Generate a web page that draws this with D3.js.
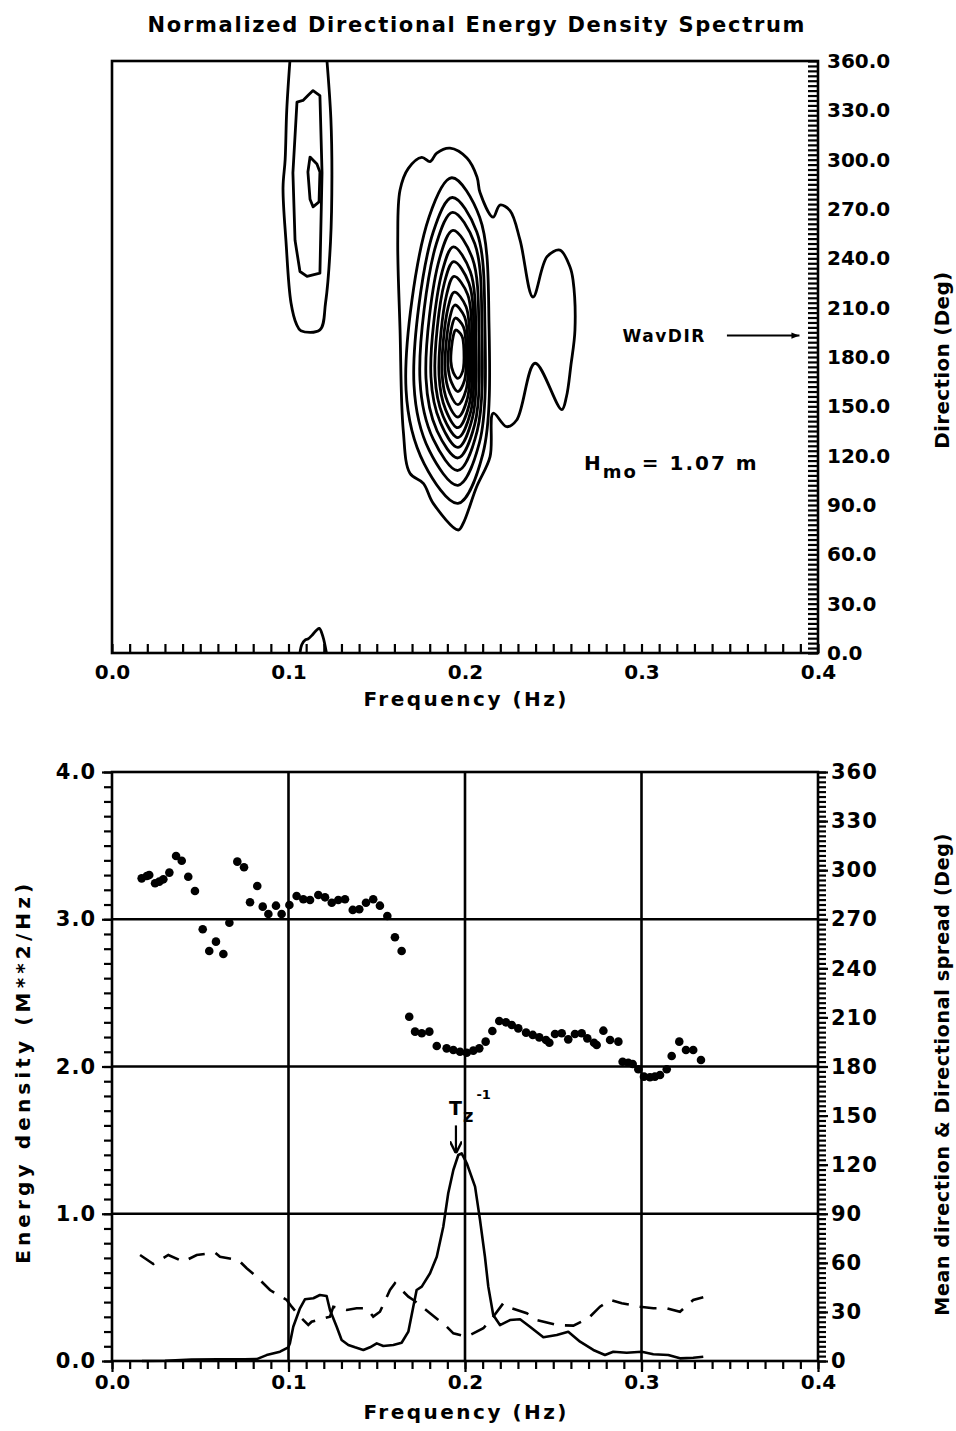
<!DOCTYPE html>
<html>
<head>
<meta charset="utf-8">
<script src="https://cdn.jsdelivr.net/npm/d3@7"></script>
<style>
  body { margin: 0; background: #fff; }
  svg text { font-family: "DejaVu Sans", sans-serif; font-weight: bold; fill: #000; }
</style>
</head>
<body>
<svg width="956" height="1431"></svg>
<script>
const svg = d3.select("svg")

// ---------- data ----------
const freqTicks = [0.0, 0.1, 0.2, 0.3, 0.4]
const dirTicks = [0, 30, 60, 90, 120, 150, 180, 210, 240, 270, 300, 330, 360]
const energyTicks = [0, 1, 2, 3, 4]
const gridFreq = [0.1, 0.2, 0.3]
const gridEnergy = [1, 2, 3]

// contours of the directional spectrum, [frequency Hz, direction deg]
const swellOuter = [[0.1008,360],[0.0990,330],[0.0981,300],[0.0969,283],[0.0986,250],[0.1014,213],[0.1045,200],[0.1070,196],[0.1178,196.5],[0.1210,213],[0.1238,250],[0.1246,290],[0.1240,325],[0.1218,360]]
const swellWrap = [[0.1065,0],[0.1075,5],[0.1095,8],[0.1110,8.5],[0.1135,11],[0.1160,14],[0.1175,15],[0.1195,10],[0.1215,0]]
const swellMid = [[0.1139,342],[0.1178,339],[0.1190,292],[0.1178,231],[0.1105,229],[0.1065,232],[0.1037,251],[0.1025,292],[0.1048,335],[0.1082,336],[0.1110,339]]
const swellInner = [[0.1122,301.6],[0.1161,297.4],[0.1178,292.5],[0.1173,274.3],[0.1139,271.3],[0.1122,276],[0.1110,292.5]]
const windOuter = [[0.1915,307],[0.2011,301],[0.2068,289.5],[0.2085,280],[0.2159,265],[0.2198,272.4],[0.2255,269],[0.2312,251],[0.2385,216.5],[0.2465,241],[0.2538,245],[0.2595,234.7],[0.2612,226.8],[0.2623,196.4],[0.2600,175],[0.2575,156],[0.2548,148],[0.2397,176.2],[0.2293,141.7],[0.2236,137.6],[0.2160,145.8],[0.2142,119.4],[0.2066,101.1],[0.1990,78.9],[0.1962,74.8],[0.1820,91],[0.1764,103.2],[0.1688,109.3],[0.1650,135.6],[0.1632,196.4],[0.1619,251],[0.1632,281.5],[0.1679,294.7],[0.1755,301.4],[0.1802,298.8],[0.1840,304]]
const windRings = [
  [[0.1925,289],[0.2083,265],[0.2136,200],[0.2101,121],[0.1960,91],[0.1769,115],[0.1666,160],[0.1796,265]],
  [[0.1928,277],[0.2067,256],[0.2113,198],[0.2082,128],[0.1960,102],[0.1798,123],[0.1711,163],[0.1820,256]],
  [[0.1930,268],[0.2055,249],[0.2096,197],[0.2069,135],[0.1960,111],[0.1820,130],[0.1745,166],[0.1838,249]],
  [[0.1932,257],[0.2042,240],[0.2079,195],[0.2055,139],[0.1960,118.6],[0.1842,135],[0.1779,167],[0.1856,240]],
  [[0.1934,247],[0.2030,232],[0.2062,192],[0.2042,143],[0.1960,125],[0.1861,140],[0.1807,168],[0.1871,232]],
  [[0.1936,238],[0.2022,225],[0.2051,190],[0.2033,147],[0.1960,131],[0.1876,144],[0.1830,168.5],[0.1883,225]],
  [[0.1938,229],[0.2015,218],[0.2040,188],[0.2024,151],[0.1960,137],[0.1890,148],[0.1853,169],[0.1896,218]],
  [[0.1940,219.5],[0.2006,210.5],[0.2028,185],[0.2014,155],[0.1960,143.5],[0.1902,152.5],[0.1870,170],[0.1905,210.5]],
  [[0.1942,211.6],[0.1998,204.3],[0.2017,184.3],[0.2006,160],[0.1960,151],[0.1913,158.3],[0.1887,172.2],[0.1915,204.3]],
  [[0.1945,203.7],[0.1991,198.3],[0.2006,183.6],[0.1997,165.7],[0.1960,159],[0.1924,164.4],[0.1904,174.6],[0.1925,198.3]],
  [[0.1947,196.4],[0.1982,192.9],[0.1994,183.2],[0.1987,171.4],[0.1960,167],[0.1934,170.5],[0.1920,177.3],[0.1934,192.9]]
]
const waveDir = 193
const hmo = 1.07

// mean direction (dots, right axis)
const dotFreq = [.0168,.0197,.0211,.0244,.0268,.0291,.0325,.0363,.0395,.0432,.0470,.0514,.0551,.0589,.0631,.0665,.0710,.0748,.0782,.0823,.0854,.0886,.0929,.0961,.1005,.1046,.1084,.1122,.1169,.1207,.1245,.1282,.1320,.1364,.1401,.1439,.1480,.1518,.1560,.1603,.1641,.1684,.1717,.1755,.1798,.1840,
  .1896,.1934,.1972,.2010,.2047,.2081,.2117,.2155,.2194,.2232,.2265,.2302,.2346,.2384,.2421,.2459,.2478,.2510,.2548,.2585,.2623,.2661,.2693,.2731,.2746,.2784,.2822,.2869,.2893,.2925,.2950,.2982,.3014,.3048,.3076,.3105,.3143,.3171,.3214,.3252,.3293,.3337]
const dotDir = [295.0,296.4,297.0,292.0,293.0,294.4,298.5,308.7,305.8,296.0,287.3,263.9,250.6,256.3,248.8,267.9,305.2,301.8,280.4,290.3,277.7,273.2,278.3,273.2,278.7,284.2,282.2,281.8,284.8,283.4,280.1,281.8,282.2,275.7,276.1,280.1,282.2,278.3,272.0,259.0,250.6,210.4,201.3,200.3,201.3,192.5,
  191.1,190.1,189.0,188.4,189.7,191.1,195.2,201.7,207.8,207.0,205.4,203.3,200.7,199.3,197.8,196.2,194.5,199.9,200.3,196.6,199.9,200.3,197.2,194.5,193.1,201.9,196.2,195.2,182.9,182.3,181.5,178.3,173.8,173.4,173.8,174.8,178.3,186.4,195.2,190.1,190.1,184.0]

// energy density (solid, left axis)
const energyFreq = [0.017,0.030,0.045,0.060,0.075,.0820,.0876,.0952,.0999,.1008,.1027,.1065,.1093,.1141,.1178,.1216,.1235,.1273,.1301,.1339,.1377,.1424,.1462,.1500,.1537,.1594,.1641,.1679,.1707,.1726,.1755,.1802,.1840,.1877,.1905,.1934,.1962,.1981,.2010,.2057,.2085,.2113,.2132,.2160,.2198,.2255,.2312,.2368,.2444,.2520,.2585,.2652,.2727,.2793,.2840,.2916,.3001,.3067,.3152,.3218,.3293,.3350]
const energy = [0.000,0.002,0.010,0.012,0.012,.013,.040,.063,.093,.120,.233,.358,.419,.426,.448,.441,.346,.233,.143,.109,.093,.075,.093,.120,.102,.109,.124,.199,.369,.482,.505,.596,.708,.912,1.139,1.297,1.399,1.410,1.343,1.184,.958,.708,.505,.312,.244,.278,.283,.233,.161,.177,.199,.131,.075,.041,.063,.056,.063,.046,.041,.018,.022,.029]
const peakFreq = 0.196

// directional spread (dashed, right axis)
const spreadFreq = [.0159,.0234,.0319,.0404,.0480,.0584,.0612,.0716,.0763,.0820,.0895,.0990,.1018,.1065,.1112,.1131,.1235,.1254,.1330,.1386,.1443,.1480,.1518,.1575,.1603,.1679,.1707,.1802,.1896,.1934,.2010,.2104,.2160,.2217,.2265,.2350,.2406,.2520,.2614,.2699,.2765,.2822,.2888,.2992,.3067,.3143,.3218,.3293,.3350]
const spread = [64.8,59.3,64.8,60.7,64.8,66.2,63.7,61.7,56.7,51.5,43.4,37.3,33.2,27.1,22.0,24.0,27.1,33.2,31.2,32.2,32.2,27.1,30.1,43.4,47.5,39.3,37.3,29.2,21.0,16.9,14.9,20.0,27.1,35.3,32.2,29.2,25.1,22.0,21.6,26.1,33.2,37.3,35.3,33.2,32.2,32.2,30.1,37.3,38.9]

// ---------- layout ----------
const left = 112, right = 818
const topY0 = 61, topY1 = 653
const botY0 = 772, botY1 = 1361
const lw = 2.6

const x = d3.scaleLinear().domain([0, 0.4]).range([left, right])
const yTop = d3.scaleLinear().domain([0, 360]).range([topY1, topY0])
const yE = d3.scaleLinear().domain([0, 4]).range([botY1, botY0])
const yDir = d3.scaleLinear().domain([0, 360]).range([botY1, botY0])

const defs = svg.append("defs")
defs.append("marker")
  .attr("id", "arrow")
  .attr("viewBox", "0 0 10 10")
  .attr("refX", 10).attr("refY", 5)
  .attr("markerWidth", 8).attr("markerHeight", 8)
  .attr("markerUnits", "userSpaceOnUse")
  .attr("orient", "auto")
  .append("path").attr("d", "M0,1 L10,5 L0,9 Z").attr("fill", "#000")
defs.append("marker")
  .attr("id", "arrow2")
  .attr("viewBox", "0 0 10 10")
  .attr("refX", 10).attr("refY", 5)
  .attr("markerWidth", 12).attr("markerHeight", 12)
  .attr("markerUnits", "userSpaceOnUse")
  .attr("orient", "auto")
  .append("path").attr("d", "M0,0 L10,5 L0,10").attr("fill", "none").attr("stroke", "#000").attr("stroke-width", 2)
defs.append("clipPath").attr("id", "clipTop")
  .append("rect").attr("x", left).attr("y", topY0).attr("width", right - left).attr("height", topY1 - topY0)

function styleAxis(g) {
  g.select(".domain").remove()
  g.selectAll(".tick line").attr("stroke", "#000").attr("stroke-width", 2.2)
  g.selectAll(".tick text").attr("font-size", 20)
}

// ---------- title ----------
svg.append("text")
  .attr("x", 476).attr("y", 32)
  .attr("text-anchor", "middle")
  .attr("font-size", 21)
  .attr("textLength", 657)
  .text("Normalized Directional Energy Density Spectrum")

// ---------- top panel: contour plot ----------
const gt = svg.append("g")

// ticks
gt.append("g").attr("transform", `translate(0,${topY1})`)
  .call(d3.axisTop(x).tickValues(d3.range(0, 0.4001, 0.01)).tickSize(9).tickFormat(""))
  .call(styleAxis)
gt.append("g").attr("transform", `translate(${right},0)`)
  .call(d3.axisLeft(yTop).tickValues(d3.range(0, 361, 3)).tickSize(10).tickFormat(""))
  .call(styleAxis)

// labels
gt.append("g").attr("transform", `translate(0,${topY1})`)
  .call(d3.axisBottom(x).tickValues(freqTicks).tickSize(0).tickPadding(12).tickFormat(d3.format(".1f")))
  .call(styleAxis)
gt.append("g").attr("transform", `translate(${right},0)`)
  .call(d3.axisRight(yTop).tickValues(dirTicks).tickSize(0).tickPadding(9).tickFormat(d3.format(".1f")))
  .call(styleAxis)

// frame
gt.append("rect")
  .attr("x", left).attr("y", topY0).attr("width", right - left).attr("height", topY1 - topY0)
  .attr("fill", "none").attr("stroke", "#000").attr("stroke-width", lw)

const contour = d3.line().x(d => x(d[0])).y(d => yTop(d[1]))
const cg = gt.append("g").attr("clip-path", "url(#clipTop)")
  .attr("fill", "none").attr("stroke", "#000").attr("stroke-width", 2.8).attr("stroke-linejoin", "round")

cg.append("path").attr("d", contour.curve(d3.curveCatmullRom)(swellOuter))
cg.append("path").attr("d", contour.curve(d3.curveCatmullRom)(swellWrap))
cg.append("path").attr("d", contour.curve(d3.curveLinearClosed)(swellMid))
cg.append("path").attr("d", contour.curve(d3.curveLinearClosed)(swellInner))
cg.append("path").attr("d", contour.curve(d3.curveCatmullRomClosed.alpha(0.5))(windOuter))
cg.selectAll("path.ring").data(windRings).join("path")
  .attr("class", "ring")
  .attr("d", d => contour.curve(d3.curveCatmullRomClosed.alpha(0.5))(d))

// WavDIR annotation
gt.append("text")
  .attr("x", x(0.2893)).attr("y", yTop(waveDir) + 6)
  .attr("font-size", 17).attr("letter-spacing", 1.5)
  .text("WavDIR")
gt.append("line")
  .attr("x1", x(0.3484)).attr("x2", x(0.3895))
  .attr("y1", yTop(waveDir)).attr("y2", yTop(waveDir))
  .attr("stroke", "#000").attr("stroke-width", 2)
  .attr("marker-end", "url(#arrow)")

// Hmo annotation
const hm = gt.append("text")
  .attr("x", x(0.2674)).attr("y", yTop(111))
  .attr("font-size", 20).attr("letter-spacing", 2)
hm.append("tspan").text("H")
hm.append("tspan").attr("dy", 8).attr("font-size", 18).text("mo")
hm.append("tspan").attr("dy", -8).attr("dx", 4).text(`= ${hmo.toFixed(2)} m`)

// axis titles
gt.append("text")
  .attr("x", x(0.2)).attr("y", 706)
  .attr("text-anchor", "middle").attr("font-size", 20)
  .attr("textLength", 203)
  .text("Frequency (Hz)")
gt.append("text")
  .attr("transform", `translate(949,${yTop(178)}) rotate(-90)`)
  .attr("text-anchor", "middle").attr("font-size", 20)
  .attr("textLength", 177)
  .text("Direction (Deg)")

// ---------- bottom panel: 1D spectrum ----------
const gb = svg.append("g")

// grid
gb.selectAll("line.vgrid").data(gridFreq).join("line")
  .attr("x1", d => x(d)).attr("x2", d => x(d))
  .attr("y1", botY0).attr("y2", botY1)
  .attr("stroke", "#000").attr("stroke-width", lw)
gb.selectAll("line.hgrid").data(gridEnergy).join("line")
  .attr("x1", left).attr("x2", right)
  .attr("y1", d => yE(d)).attr("y2", d => yE(d))
  .attr("stroke", "#000").attr("stroke-width", lw)

// ticks
gb.append("g").attr("transform", `translate(0,${botY1})`)
  .call(d3.axisBottom(x).tickValues(d3.range(0, 0.4001, 0.01)).tickSize(8).tickFormat(""))
  .call(styleAxis)
gb.append("g").attr("transform", `translate(0,${botY1})`)
  .call(d3.axisBottom(x).tickValues(freqTicks).tickSize(11).tickPadding(3).tickFormat(d3.format(".1f")))
  .call(styleAxis)
gb.append("g").attr("transform", `translate(${left},0)`)
  .call(d3.axisLeft(yE).tickValues(d3.range(0, 4.001, 0.1)).tickSize(8).tickFormat(""))
  .call(styleAxis)
gb.append("g").attr("transform", `translate(${left},0)`)
  .call(d3.axisLeft(yE).tickValues(energyTicks).tickSize(10).tickPadding(6).tickFormat(d3.format(".1f")))
  .call(styleAxis)
  .call(g => g.selectAll(".tick text").attr("font-size", 21).attr("letter-spacing", 1))
gb.append("g").attr("transform", `translate(${right},0)`)
  .call(d3.axisRight(yDir).tickValues(d3.range(0, 361, 3)).tickSize(8).tickFormat(""))
  .call(styleAxis)
gb.append("g").attr("transform", `translate(${right},0)`)
  .call(d3.axisRight(yDir).tickValues(dirTicks).tickSize(10).tickPadding(3).tickFormat(d3.format("d")))
  .call(styleAxis)
  .call(g => g.selectAll(".tick text").attr("font-size", 21).attr("letter-spacing", 1))

// frame
gb.append("rect")
  .attr("x", left).attr("y", botY0).attr("width", right - left).attr("height", botY1 - botY0)
  .attr("fill", "none").attr("stroke", "#000").attr("stroke-width", lw)

// series
const eLine = d3.line().x(d => x(d[0])).y(d => yE(d[1]))
const dLine = d3.line().x(d => x(d[0])).y(d => yDir(d[1]))

gb.append("path")
  .attr("d", eLine(d3.zip(energyFreq, energy)))
  .attr("fill", "none").attr("stroke", "#000").attr("stroke-width", 2.6)
  .attr("stroke-linejoin", "round")

gb.append("path")
  .attr("d", dLine(d3.zip(spreadFreq, spread)))
  .attr("fill", "none").attr("stroke", "#000").attr("stroke-width", 2.6)
  .attr("stroke-dasharray", "17,11")

gb.selectAll("circle.dir").data(d3.zip(dotFreq, dotDir)).join("circle")
  .attr("class", "dir")
  .attr("cx", d => x(d[0])).attr("cy", d => yDir(d[1]))
  .attr("r", 4.3).attr("fill", "#000")

// Tz^-1 marker
const peakE = 1.41
gb.append("line")
  .attr("x1", x(peakFreq) - 2).attr("x2", x(peakFreq) - 2)
  .attr("y1", yE(1.60)).attr("y2", yE(peakE))
  .attr("stroke", "#000").attr("stroke-width", 2.2)
  .attr("marker-end", "url(#arrow2)")
const tz = gb.append("text")
  .attr("x", x(peakFreq) - 9).attr("y", yE(1.67))
  .attr("font-size", 19)
tz.append("tspan").text("T")
tz.append("tspan").attr("dx", 1).attr("dy", 7).attr("font-size", 18).text("z")
tz.append("tspan").attr("dx", 3).attr("dy", -23).attr("font-size", 13).text("-1")

// axis titles
gb.append("text")
  .attr("x", x(0.2)).attr("y", 1419)
  .attr("text-anchor", "middle").attr("font-size", 20)
  .attr("textLength", 203)
  .text("Frequency (Hz)")
gb.append("text")
  .attr("transform", `translate(30,${yE(1.95)}) rotate(-90)`)
  .attr("text-anchor", "middle").attr("font-size", 20)
  .attr("textLength", 380)
  .text("Energy density (M**2/Hz)")
gb.append("text")
  .attr("transform", `translate(949,${yDir(175)}) rotate(-90)`)
  .attr("text-anchor", "middle").attr("font-size", 19)
  .attr("textLength", 482)
  .text("Mean direction & Directional spread (Deg)")
</script>
</body>
</html>
